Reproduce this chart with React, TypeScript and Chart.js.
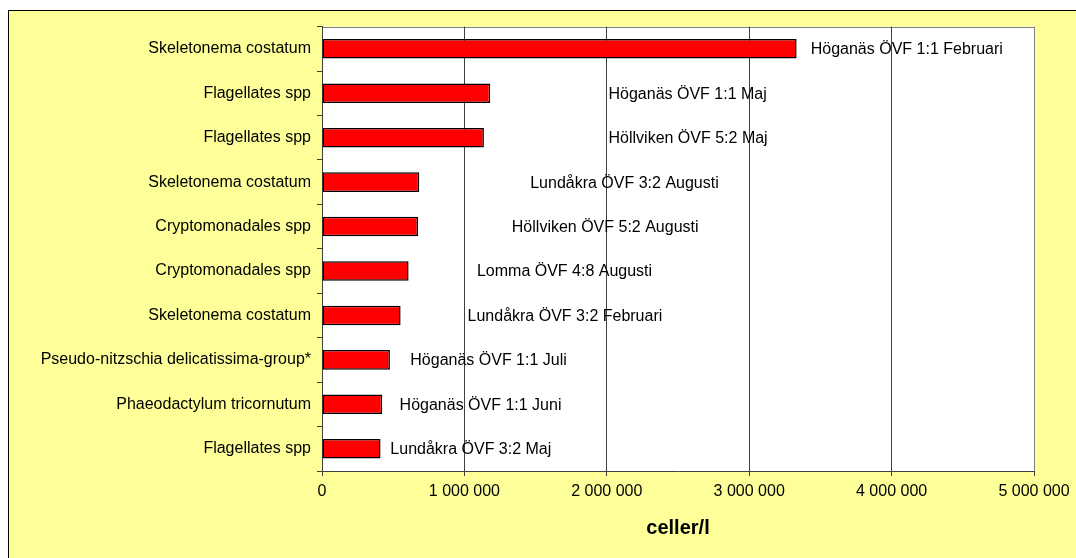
import React, { useEffect, useRef } from "react";
import { Chart, registerables } from "chart.js";

Chart.register(...registerables);

const categories = [
  "Skeletonema costatum",
  "Flagellates spp",
  "Flagellates spp",
  "Skeletonema costatum",
  "Cryptomonadales spp",
  "Cryptomonadales spp",
  "Skeletonema costatum",
  "Pseudo-nitzschia delicatissima-group*",
  "Phaeodactylum tricornutum",
  "Flagellates spp",
];

const cellsPerLitre = [3333000, 1181000, 1137000, 683000, 674000, 608000, 552000, 477000, 423000, 411000];

const sampleLabels = [
  "Höganäs ÖVF 1:1 Februari",
  "Höganäs ÖVF 1:1 Maj",
  "Höllviken ÖVF 5:2 Maj",
  "Lundåkra ÖVF 3:2 Augusti",
  "Höllviken ÖVF 5:2 Augusti",
  "Lomma ÖVF 4:8 Augusti",
  "Lundåkra ÖVF 3:2 Februari",
  "Höganäs ÖVF 1:1 Juli",
  "Höganäs ÖVF 1:1 Juni",
  "Lundåkra ÖVF 3:2 Maj",
];

// where each sample label starts, in cells/l along the value axis
const sampleLabelAnchor = [3432000, 2012000, 2012000, 1462000, 1333000, 1088000, 1022000, 620000, 545000, 480000];

const xMin = 0;
const xMax = 5000000;
const xStep = 1000000;
const axisTitle = "celler/l";

const FONT = '"Liberation Sans", Arial, sans-serif';

const fmt = (v: number) => String(Math.round(v)).replace(/\B(?=(\d{3})+(?!\d))/g, " ");

const decorPlugin = {
  id: "decor",
  beforeDraw(chart: any) {
    const { ctx, chartArea } = chart;
    const { left, top, right, bottom } = chartArea;
    ctx.save();
    ctx.fillStyle = "#FFFFFF";
    ctx.fillRect(left, top, right - left, bottom - top);
    ctx.strokeStyle = "#808080";
    ctx.lineWidth = 1;
    ctx.beginPath();
    ctx.moveTo(left, Math.round(top) + 0.5);
    ctx.lineTo(right, Math.round(top) + 0.5);
    ctx.stroke();
    ctx.restore();
  },
  afterDatasetsDraw(chart: any) {
    const { ctx } = chart;
    const xs = chart.scales.x;
    const meta = chart.getDatasetMeta(0);
    ctx.save();
    ctx.font = `16px ${FONT}`;
    ctx.fillStyle = "#000000";
    ctx.textAlign = "left";
    ctx.textBaseline = "middle";
    sampleLabels.forEach((t, i) => {
      const el = meta.data[i];
      if (!el) return;
      ctx.fillText(t, xs.getPixelForValue(sampleLabelAnchor[i]), el.y + 1);
    });
    ctx.restore();
  },
};

export default function App() {
  const ref = useRef<HTMLCanvasElement>(null);

  useEffect(() => {
    if (!ref.current) return;
    const chart = new Chart(ref.current, {
      type: "bar",
      data: {
        labels: categories,
        datasets: [
          {
            data: cellsPerLitre,
            backgroundColor: "#FF0000",
            borderColor: "#000000",
            borderWidth: 1.5,
            borderSkipped: false,
            barPercentage: 0.44,
            categoryPercentage: 1,
          },
        ],
      },
      options: {
        indexAxis: "y",
        responsive: false,
        animation: false,
        devicePixelRatio: 1,
        layout: { padding: { top: 14, right: 42, left: 0, bottom: 0 } },
        plugins: {
          legend: { display: false },
          tooltip: { enabled: false },
        },
        scales: {
          x: {
            type: "linear",
            min: xMin,
            max: xMax,
            ticks: {
              stepSize: xStep,
              color: "#000000",
              font: { family: FONT, size: 16 },
              padding: 6,
              maxRotation: 0,
              callback: (v: any) => fmt(Number(v)),
            },
            grid: {
              color: (c: any) => (c.tick && c.tick.value === xMax ? "#808080" : "#404040"),
              lineWidth: 1,
              tickLength: 5,
              tickColor: "#404040",
            },
            border: { color: "#404040", width: 1 },
            title: {
              display: true,
              text: axisTitle,
              color: "#000000",
              font: { family: FONT, size: 20, weight: "bold" },
              padding: { top: 0, bottom: 18 },
            },
            afterFit: (s: any) => {
              s.height = 87;
            },
          },
          y: {
            type: "category",
            ticks: {
              color: "#000000",
              font: { family: FONT, size: 16 },
              padding: 6,
              autoSkip: false,
            },
            grid: {
              drawOnChartArea: false,
              tickLength: 5,
              tickColor: "#404040",
              offset: true,
            },
            border: { color: "#404040", width: 1 },
            afterFit: (s: any) => {
              s.width = 313;
            },
          },
        },
      },
      plugins: [decorPlugin],
    } as any);
    return () => chart.destroy();
  }, []);

  return (
    <div
      style={{
        position: "fixed",
        left: 8,
        top: 10,
        right: 0,
        bottom: 0,
        borderTop: "1px solid #000",
        borderLeft: "1px solid #000",
        background: "#FFFF99",
        overflow: "hidden",
      }}
    >
      <canvas ref={ref} width={1067} height={547} style={{ display: "block", background: "#FFFF99" }} />
    </div>
  );
}
